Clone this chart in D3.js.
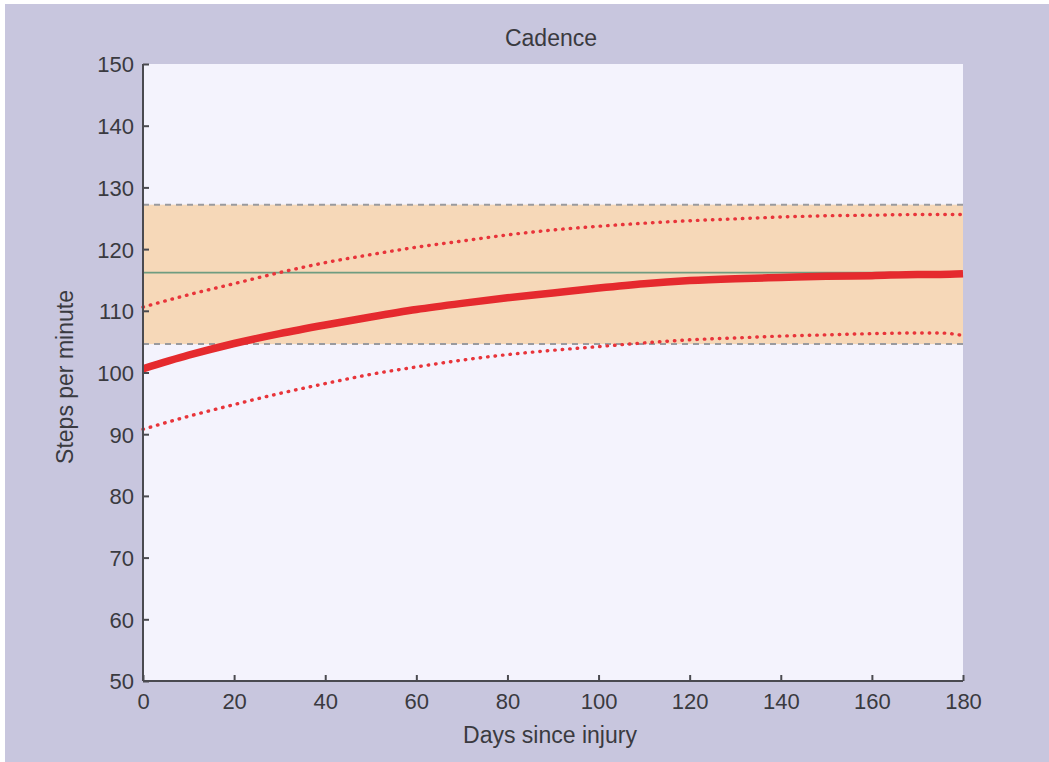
<!DOCTYPE html>
<html>
<head>
<meta charset="utf-8">
<script src="https://cdn.jsdelivr.net/npm/d3@7"></script>
<style>
  html, body { margin: 0; padding: 0; background: #ffffff; }
  svg { display: block; }
  text { font-family: "Liberation Sans", Arial, sans-serif; fill: #3a3a40; }
</style>
</head>
<body>
<svg id="chart" width="1049" height="762"></svg>
<script>
// Days after injury at which the recovery curves are sampled
const days = [0, 10, 20, 30, 40, 50, 60, 70, 80, 90, 100, 110, 120, 130, 140, 150, 160, 170, 175, 180];
// Predicted cadence (steps per minute)
const meanCadence = [100.6, 102.8, 104.7, 106.3, 107.7, 109.0, 110.2, 111.2, 112.1, 112.9, 113.7, 114.4, 114.9, 115.2, 115.4, 115.6, 115.7, 115.9, 115.9, 116.0];
// Upper and lower prediction bounds
const upperCadence = [110.6, 112.6, 114.4, 116.2, 117.8, 119.1, 120.3, 121.3, 122.3, 123.1, 123.7, 124.2, 124.6, 124.9, 125.2, 125.4, 125.5, 125.6, 125.6, 125.6];
const lowerCadence = [90.8, 92.9, 94.8, 96.6, 98.2, 99.7, 100.9, 102.0, 102.9, 103.6, 104.2, 104.8, 105.3, 105.6, 105.9, 106.1, 106.3, 106.4, 106.4, 106.0];
// Healthy reference range and its mean
const normalRange = [104.6, 127.2];
const normalMean = 116.2;
// Axis ticks
const xTicks = [0, 20, 40, 60, 80, 100, 120, 140, 160, 180];
const yTicks = [50, 60, 70, 80, 90, 100, 110, 120, 130, 140, 150];

const svg = d3.select("#chart");
const W = 1049, H = 762;
const m = { left: 143, right: 963, top: 64, bottom: 681 };

// figure background
svg.append("rect").attr("x", 5).attr("y", 4).attr("width", W - 5).attr("height", H - 4).attr("fill", "#c8c6de");

const x = d3.scaleLinear().domain([0, 180]).range([m.left, m.right]);
const y = d3.scaleLinear().domain([50, 150]).range([m.bottom, m.top]);

// axes area
svg.append("rect")
  .attr("x", m.left).attr("y", m.top)
  .attr("width", m.right - m.left).attr("height", m.bottom - m.top)
  .attr("fill", "#f4f3fd");

const plot = svg.append("g");

// normal range band
plot.append("rect")
  .attr("x", x(0)).attr("width", x(180) - x(0))
  .attr("y", y(normalRange[1])).attr("height", y(normalRange[0]) - y(normalRange[1]))
  .attr("fill", "#f6d8b8");

// dashed band edges
normalRange.forEach(v => {
  plot.append("line")
    .attr("x1", x(0)).attr("x2", x(180))
    .attr("y1", y(v)).attr("y2", y(v))
    .attr("stroke", "#9a9a9e").attr("stroke-width", 2)
    .attr("stroke-dasharray", "6,5");
});

// normal mean line
plot.append("line")
  .attr("x1", x(0)).attr("x2", x(180))
  .attr("y1", y(normalMean)).attr("y2", y(normalMean))
  .attr("stroke", "#6f9c80").attr("stroke-width", 1.8);

const line = vals => d3.line()
  .x((d, i) => x(days[i]))
  .y(d => y(d))
  .curve(d3.curveMonotoneX)(vals);

// prediction bounds (dotted)
[upperCadence, lowerCadence].forEach(vals => {
  plot.append("path")
    .attr("d", line(vals))
    .attr("fill", "none")
    .attr("stroke", "#e8343a").attr("stroke-width", 3.4)
    .attr("stroke-linecap", "round")
    .attr("stroke-dasharray", "0.5,7");
});

// predicted cadence
plot.append("path")
  .attr("d", line(meanCadence))
  .attr("fill", "none")
  .attr("stroke", "#e52a2e").attr("stroke-width", 7.5);

// axes
const axisColor = "#4a4a50";
svg.append("line").attr("x1", m.left).attr("x2", m.left).attr("y1", m.top).attr("y2", m.bottom)
  .attr("stroke", axisColor).attr("stroke-width", 2);
svg.append("line").attr("x1", m.left).attr("x2", m.right).attr("y1", m.bottom).attr("y2", m.bottom)
  .attr("stroke", axisColor).attr("stroke-width", 2);

const yAxis = svg.append("g").attr("transform", `translate(${m.left},0)`)
  .call(d3.axisLeft(y).tickValues(yTicks).tickSize(-6).tickPadding(10).tickFormat(d3.format("d")));
const xAxis = svg.append("g").attr("transform", `translate(0,${m.bottom})`)
  .call(d3.axisBottom(x).tickValues(xTicks).tickSize(-6).tickPadding(10).tickFormat(d3.format("d")));

[yAxis, xAxis].forEach(g => {
  g.select(".domain").remove();
  g.selectAll(".tick line").attr("stroke", axisColor).attr("stroke-width", 2);
  g.selectAll(".tick text").style("font-size", "22px").attr("fill", "#3a3a40")
    .style("font-family", '"Liberation Sans", Arial, sans-serif');
});
yAxis.selectAll(".tick text").attr("x", -9).attr("dy", "0.36em");
xAxis.selectAll(".tick text").attr("y", 12);

// labels
svg.append("text").attr("x", 551).attr("y", 46).attr("text-anchor", "middle")
  .style("font-size", "23px").text("Cadence");
svg.append("text").attr("x", 550).attr("y", 743).attr("text-anchor", "middle")
  .style("font-size", "23px").text("Days since injury");
svg.append("text").attr("transform", `translate(73,377) rotate(-90)`).attr("text-anchor", "middle")
  .style("font-size", "23px").text("Steps per minute");
</script>
</body>
</html>
